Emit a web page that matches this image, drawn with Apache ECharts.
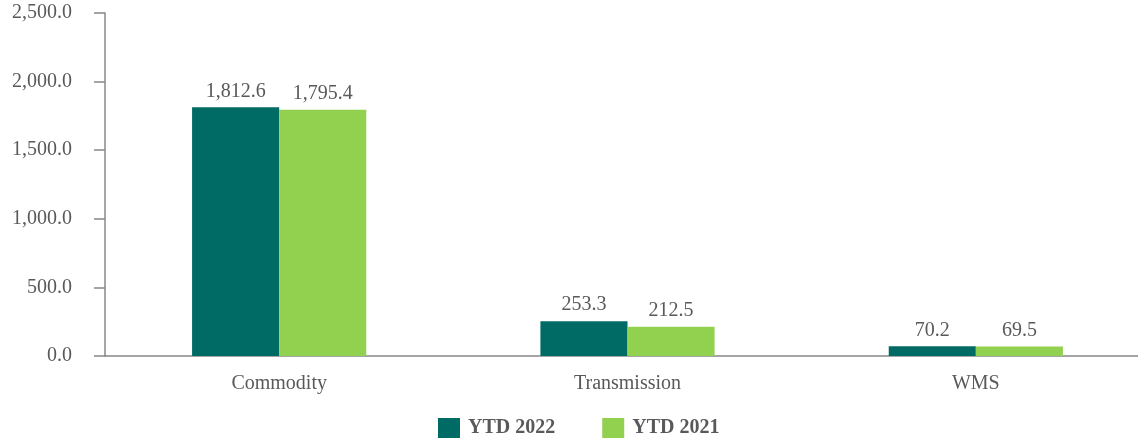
<!DOCTYPE html>
<html>
<head>
    <meta charset="utf-8">
    <title>ECharts</title>
    <script src="https://cdn.jsdelivr.net/npm/echarts@6/dist/echarts.min.js"></script>
    <style>
        html, body { margin: 0; padding: 0; background: #fff; }
    </style>
</head>
<body>
    <div id="main" style="width: 1138px;height:439px;"></div>
    <script type="text/javascript">
        var categories = ['Commodity', 'Transmission', 'WMS'];
        var ytd2022 = [1812.6, 253.3, 70.2];
        var ytd2021 = [1795.4, 212.5, 69.5];

        var fmt = function (v) {
            return Number(v).toLocaleString('en-US', { minimumFractionDigits: 1, maximumFractionDigits: 1 });
        };
        var font = '"Liberation Serif", "Times New Roman", serif';

        var myChart = echarts.init(document.getElementById('main'));
        var option = {
            animation: false,
            textStyle: { fontFamily: font },
            // axis runs past the right edge in the original
            grid: { left: 105, width: 1045, top: 13, height: 343, outerBoundsMode: 'none', containLabel: false },
            legend: {
                top: 418,
                left: 438,
                padding: 0,
                itemWidth: 22,
                itemHeight: 20,
                itemGap: 47,
                icon: 'rect',
                textStyle: { fontFamily: font, fontSize: 20, fontWeight: 'bold', color: '#595959', padding: [0, 0, 0, 3] },
                data: ['YTD 2022', 'YTD 2021']
            },
            xAxis: {
                type: 'category',
                data: categories,
                axisTick: { show: false },
                axisLine: { lineStyle: { color: '#888888', width: 1.5 } },
                axisLabel: { fontFamily: font, fontSize: 20, color: '#595959', margin: 18 }
            },
            yAxis: {
                type: 'value',
                min: 0,
                max: 2500,
                interval: 500,
                splitLine: { show: false },
                axisLine: { show: true, lineStyle: { color: '#888888', width: 1.5 } },
                axisTick: { show: true, length: 11, lineStyle: { color: '#888888', width: 1.5 } },
                axisLabel: { fontFamily: font, fontSize: 20, color: '#595959', margin: 33, formatter: fmt }
            },
            series: [
                {
                    name: 'YTD 2022',
                    type: 'bar',
                    data: ytd2022,
                    barGap: '0%',
                    barCategoryGap: '50%',
                    itemStyle: { color: '#006A65' },
                    label: { show: true, position: 'top', distance: 6, fontFamily: font, fontSize: 20, color: '#595959', formatter: function (p) { return fmt(p.value); } }
                },
                {
                    name: 'YTD 2021',
                    type: 'bar',
                    data: ytd2021,
                    itemStyle: { color: '#92D050' },
                    label: { show: true, position: 'top', distance: 6, fontFamily: font, fontSize: 20, color: '#595959', formatter: function (p) { return fmt(p.value); } }
                }
            ]
        };
        myChart.setOption(option);
    </script>
</body>
</html>
